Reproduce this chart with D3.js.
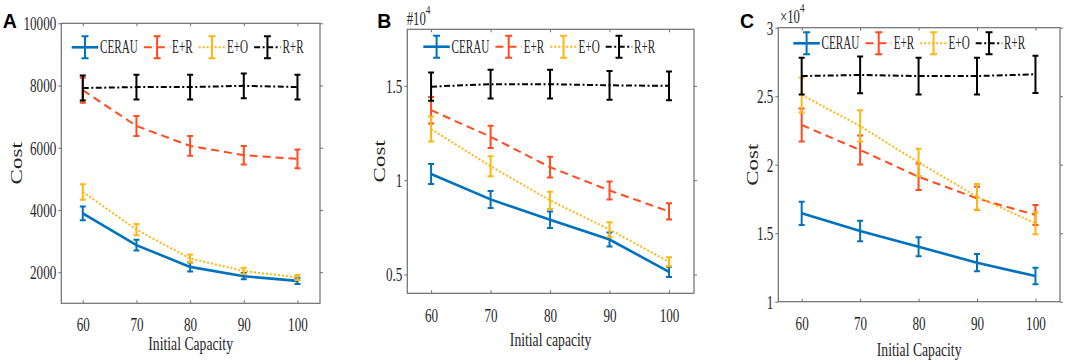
<!DOCTYPE html>
<html>
<head>
<meta charset="utf-8">
<script src="https://cdn.jsdelivr.net/npm/d3@7"></script>
<style>
  body { margin: 0; background: #fff; }
</style>
</head>
<body>
<div id="wrapper"></div>
<script>
// data
const xCaps = [60, 70, 80, 90, 100];
const seriesNames = ["CERAU", "E+R", "E+O", "R+R"];

// panel A (Cost)
const aCerau = [3890, 2870, 2170, 1870, 1720];
const aCerauErr = [220, 170, 145, 100, 100];
const aER = [7850, 6700, 6060, 5760, 5640];
const aERErr = [400, 320, 320, 300, 300];
const aEO = [4580, 3370, 2440, 2040, 1830];
const aEOErr = [250, 180, 130, 100, 80];
const aRR = [7920, 7950, 7950, 7990, 7950];
const aRRErr = [400, 400, 400, 400, 400];

// panel B (Cost, x10^4)
const bCerau = [1.033, 0.898, 0.79, 0.685, 0.514];
const bCerauErr = [0.053, 0.045, 0.044, 0.037, 0.027];
const bER = [1.371, 1.23, 1.069, 0.945, 0.834];
const bERErr = [0.07, 0.059, 0.055, 0.048, 0.043];
const bEO = [1.271, 1.074, 0.893, 0.738, 0.567];
const bEOErr = [0.066, 0.053, 0.046, 0.039, 0.024];
const bRR = [1.496, 1.509, 1.509, 1.503, 1.5];
const bRRErr = [0.075, 0.076, 0.076, 0.076, 0.076];

// panel C (Cost, x10^4)
const cCerau = [1.645, 1.516, 1.401, 1.285, 1.187];
const cCerauErr = [0.085, 0.075, 0.07, 0.063, 0.06];
const cER = [2.29, 2.107, 1.912, 1.754, 1.633];
const cERErr = [0.12, 0.106, 0.097, 0.085, 0.073];
const cEO = [2.509, 2.282, 2.017, 1.766, 1.572];
const cEOErr = [0.128, 0.115, 0.1, 0.094, 0.08];
const cRR = [2.647, 2.655, 2.647, 2.647, 2.66];
const cRRErr = [0.134, 0.134, 0.134, 0.134, 0.136];

const aTicks = [2000, 4000, 6000, 8000, 10000];
const bTicks = [0.5, 1, 1.5];
const cTicks = [1, 1.5, 2, 2.5, 3];

const panelLetters = ["A", "B", "C"];
const xLabels = ["Initial Capacity", "Initial capacity", "Initial Capacity"];
const yLabel = "Cost";
const multipliers = ["", "#10", "\u00d710"];
const exponent = "4";

// styles
const colors = ["#0072bd", "#ff4b1f", "#fdb614", "#000000"];
const dashes = [null, "8,5", "2,2", "6,2.5,2,2.5"];
const widths = [2.6, 2, 2, 2];

const serif = "'Liberation Serif', 'Times New Roman', serif";
const squeeze = 0.71; // source glyphs are squeezed horizontally

const panels = [
  { left: 61.3, right: 320, top: 23.3, bottom: 303.3, yDomain: [1000, 10000], ticks: aTicks,
    series: [[aCerau, aCerauErr], [aER, aERErr], [aEO, aEOErr], [aRR, aRRErr]],
    legX: 71.7, legY: 47.3, tickY: 331, labelY: 350, costX: 21.7, letterX: 2.7, multX: null },
  { left: 407.3, right: 694, top: 29.3, bottom: 293.3, yDomain: [0.4, 1.8], ticks: bTicks,
    series: [[bCerau, bCerauErr], [bER, bERErr], [bEO, bEOErr], [bRR, bRRErr]],
    legX: 423.3, legY: 46.7, tickY: 321.7, labelY: 346, costX: 385, letterX: 377.3, multX: 406.7, multY: 25 },
  { left: 778.3, right: 1060, top: 27.7, bottom: 301.7, yDomain: [1, 3], ticks: cTicks,
    series: [[cCerau, cCerauErr], [cER, cERErr], [cEO, cEOErr], [cRR, cRRErr]],
    legX: 793.3, legY: 43.3, tickY: 330, labelY: 356, costX: 758.3, letterX: 740, multX: 780, multY: 22.7 },
];

const wrapper = d3.select("#wrapper")
  .append("svg")
  .attr("width", 1065)
  .attr("height", 364);

function drawPanel(p, i) {
  const xScale = d3.scaleLinear().domain([56, 104.2]).range([p.left, p.right]);
  const yScale = d3.scaleLinear().domain(p.yDomain).range([p.bottom, p.top]);
  const bounds = wrapper.append("g");

  // ticks on all four sides, labels bottom and left only
  const xAxis = bounds.append("g")
    .attr("transform", `translate(0,${p.bottom})`)
    .call(d3.axisBottom(xScale).tickValues(xCaps).tickSize(-3).tickSizeOuter(0));
  xAxis.selectAll("text")
    .attr("y", null).attr("dy", null)
    .attr("transform", `translate(0,${p.tickY - p.bottom}) scale(${squeeze},1)`);

  bounds.append("g")
    .attr("transform", `translate(0,${p.top})`)
    .call(d3.axisTop(xScale).tickValues(xCaps).tickSize(-3).tickSizeOuter(0).tickFormat(""));

  const yAxis = bounds.append("g")
    .attr("transform", `translate(${p.left},0)`)
    .call(d3.axisLeft(yScale).tickValues(p.ticks).tickSize(3).tickSizeOuter(0).tickFormat(d3.format("")));
  yAxis.selectAll("text")
    .attr("x", null).attr("dy", "0.34em")
    .attr("transform", `translate(-5,0) scale(${squeeze},1)`);

  bounds.append("g")
    .attr("transform", `translate(${p.right},0)`)
    .call(d3.axisRight(yScale).tickValues(p.ticks).tickSize(3).tickSizeOuter(0).tickFormat(""));

  bounds.selectAll(".domain").remove();
  bounds.selectAll(".tick line").attr("stroke", "#6e6e6e").attr("stroke-width", 1);
  bounds.selectAll(".tick text")
    .style("font-family", serif).style("font-size", "18.5px").attr("fill", "#262626");

  bounds.append("rect")
    .attr("x", p.left).attr("y", p.top)
    .attr("width", p.right - p.left).attr("height", p.bottom - p.top)
    .attr("fill", "none").attr("stroke", "#6e6e6e").attr("stroke-width", 1.2);

  // series
  p.series.forEach(([vals, errs], s) => {
    const line = d3.line().x((d, k) => xScale(xCaps[k])).y((d) => yScale(d));
    bounds.append("path")
      .attr("d", line(vals))
      .attr("fill", "none")
      .attr("stroke", colors[s])
      .attr("stroke-width", widths[s])
      .attr("stroke-dasharray", dashes[s]);

    bounds.selectAll(null)
      .data(vals)
      .enter().append("path")
        .attr("d", (d, k) => {
          const x = xScale(xCaps[k]);
          const y0 = yScale(d - errs[k]), y1 = yScale(d + errs[k]);
          return `M${x},${y0}V${y1}M${x - 3},${y0}H${x + 3}M${x - 3},${y1}H${x + 3}`;
        })
        .attr("fill", "none")
        .attr("stroke", colors[s])
        .attr("stroke-width", 2);
  });

  // legend
  let lx = p.legX;
  const ly = p.legY;
  seriesNames.forEach((name, s) => {
    bounds.append("line")
      .attr("x1", lx).attr("x2", lx + 26.5).attr("y1", ly).attr("y2", ly)
      .attr("stroke", colors[s]).attr("stroke-width", widths[s])
      .attr("stroke-dasharray", dashes[s]);
    const cx = lx + 13.3;
    bounds.append("path")
      .attr("d", `M${cx},${ly - 11}V${ly + 11}M${cx - 3.5},${ly - 11}H${cx + 3.5}M${cx - 3.5},${ly + 11}H${cx + 3.5}`)
      .attr("fill", "none").attr("stroke", colors[s]).attr("stroke-width", 2);
    const tx = lx + 28.3;
    const t = bounds.append("text")
      .attr("transform", `translate(${tx},${ly + 6}) scale(0.62,1)`)
      .style("font-family", serif).style("font-size", "18px").attr("fill", "#262626")
      .text(name);
    lx = tx + t.node().getComputedTextLength() * 0.62 + 6;
  });

  // axis labels
  bounds.append("text")
    .attr("transform", `translate(${(p.left + p.right) / 2},${p.labelY}) scale(0.72,1)`)
    .attr("text-anchor", "middle")
    .style("font-family", serif).style("font-size", "19px").attr("fill", "#262626")
    .text(xLabels[i]);

  bounds.append("text")
    .attr("transform", `translate(${p.costX},${(p.top + p.bottom) / 2}) scale(0.72,1) rotate(-90)`)
    .attr("text-anchor", "middle")
    .style("font-family", serif).style("font-size", "23px").attr("fill", "#262626")
    .text(yLabel);

  if (p.multX !== null) {
    const m = bounds.append("text")
      .attr("transform", `translate(${p.multX},${p.multY}) scale(${squeeze},1)`)
      .style("font-family", serif).style("font-size", "18px").attr("fill", "#262626");
    m.append("tspan").text(multipliers[i]);
    m.append("tspan").style("font-size", "13px").attr("dy", -11).text(exponent);
  }

  bounds.append("text")
    .attr("x", p.letterX).attr("y", 28.3)
    .style("font-family", "'Liberation Sans', Arial, sans-serif")
    .attr("font-weight", "bold").style("font-size", "19.5px").attr("fill", "#000")
    .text(panelLetters[i]);
}

panels.forEach(drawPanel);
</script>
</body>
</html>
